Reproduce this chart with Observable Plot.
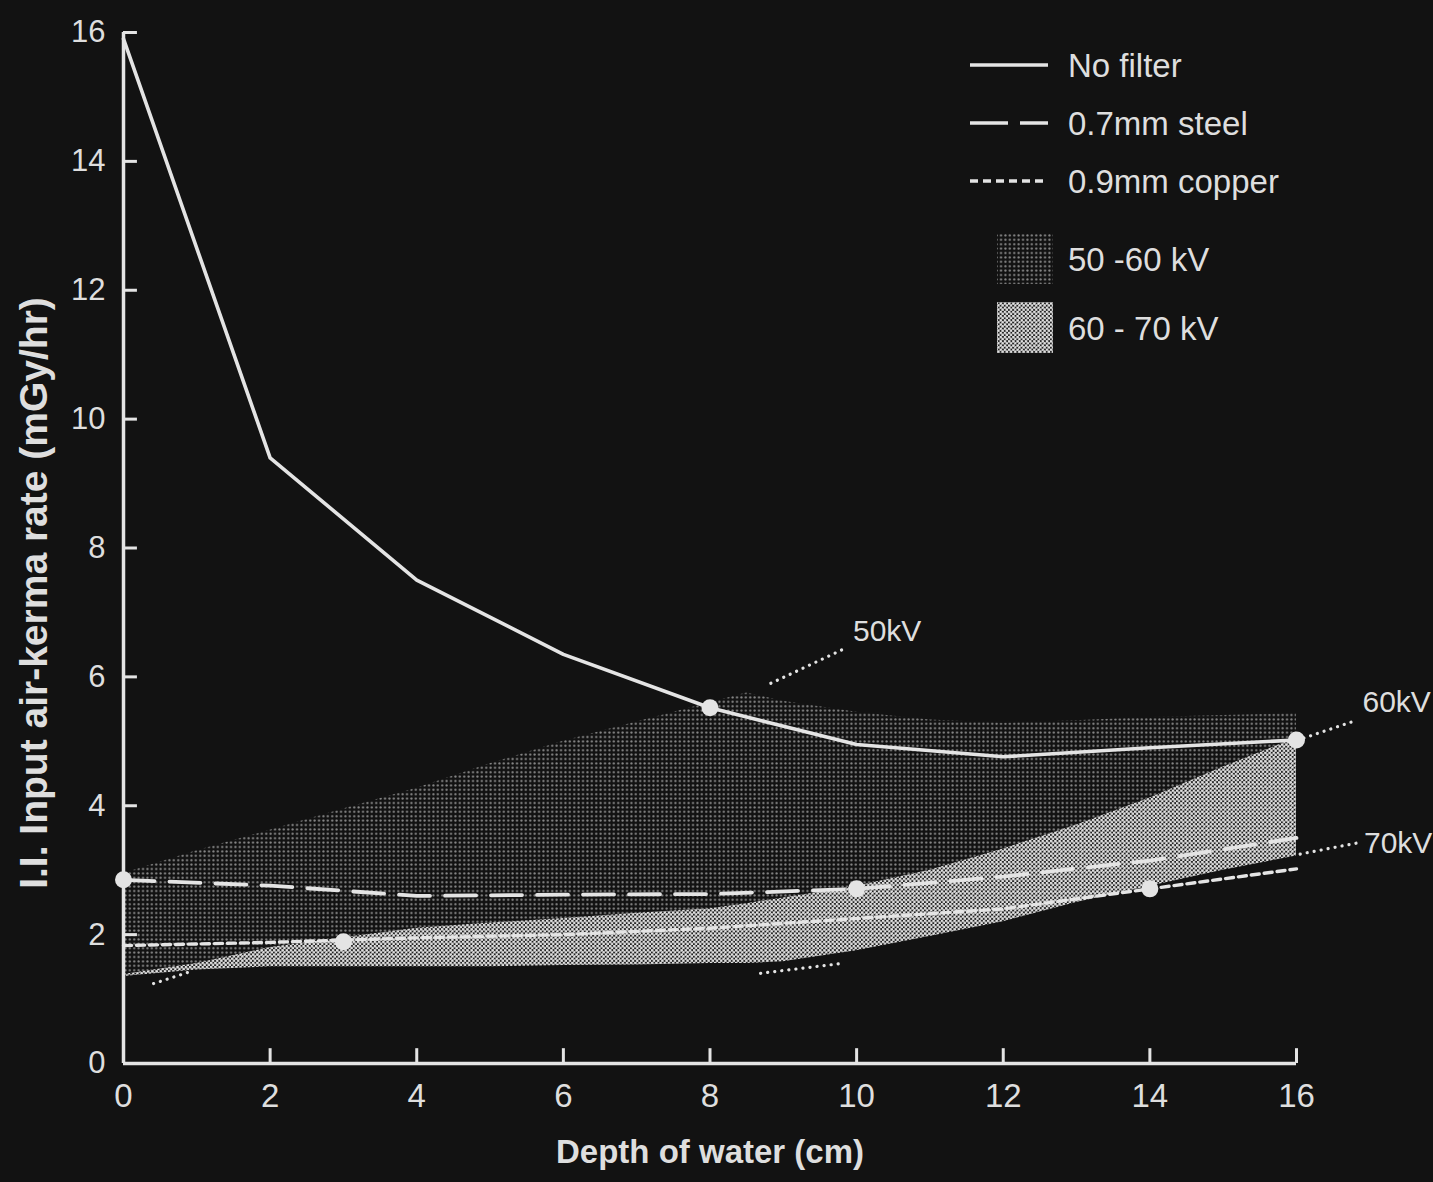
<!DOCTYPE html>
<html>
<head>
<meta charset="utf-8">
<script src="https://cdn.jsdelivr.net/npm/d3@7"></script>
<script src="https://cdn.jsdelivr.net/npm/@observablehq/plot@0.6"></script>
<style>
  html, body { margin: 0; padding: 0; background: #121212; }
  #chart { width: 1433px; height: 1182px; }
</style>
</head>
<body>
<div id="chart"></div>
<script>
// ---------- data ----------
const depth    = [0, 2, 4, 6, 8, 10, 12, 14, 16];
const noFilter = [15.9, 9.4, 7.5, 6.35, 5.52, 4.95, 4.76, 4.9, 5.02];
const steel    = [2.85, 2.76, 2.6, 2.62, 2.63, 2.71, 2.9, 3.15, 3.5];
const copper   = [1.83, 1.88, 1.95, 2.0, 2.1, 2.25, 2.4, 2.71, 3.02];

const markerSeries = ["No filter", "No filter", "0.7mm steel", "0.7mm steel", "0.9mm copper", "0.9mm copper"];
const markerDepth  = [8, 16, 0, 10, 3, 14];
const markerRate   = [5.52, 5.02, 2.85, 2.71, 1.89, 2.71];

// kV envelope curves (shaded bands)
const bandDepth = [0, 1, 2, 3, 4, 5, 6, 7, 8, 8.5, 9, 10, 11, 12, 13, 14, 15, 16];
const kv50 = [2.95, 3.3, 3.62, 3.95, 4.27, 4.65, 5.0, 5.3, 5.6, 5.75, 5.62, 5.45, 5.33, 5.28, 5.32, 5.37, 5.4, 5.43];
const kv60 = [1.38, 1.55, 1.8, 1.95, 2.1, 2.18, 2.25, 2.33, 2.4, 2.48, 2.57, 2.75, 3.0, 3.33, 3.7, 4.12, 4.6, 5.05];
const kv70 = [1.35, 1.45, 1.5, 1.5, 1.5, 1.5, 1.52, 1.53, 1.55, 1.55, 1.58, 1.75, 1.97, 2.2, 2.5, 2.75, 3.0, 3.22];

// kV annotations with dotted leaders
const kvLabel   = ["50kV", "60kV", "70kV"];
const kvLabelX  = [9.95, 16.9, 16.92];
const kvLabelY  = [6.7, 5.6, 3.41];
const leaderX1  = [8.83, 16.1, 16.05, 0.41, 8.69];
const leaderY1  = [5.9, 5.05, 3.25, 1.24, 1.40];
const leaderX2  = [9.82, 16.75, 16.82, 0.95, 9.78];
const leaderY2  = [6.43, 5.3, 3.42, 1.44, 1.55];

const xTicks = [0, 2, 4, 6, 8, 10, 12, 14, 16];
const yTicks = [0, 2, 4, 6, 8, 10, 12, 14, 16];

const xTitle = "Depth of water (cm)";
const yTitle = "I.I. Input air-kerma rate (mGy/hr)";
const legendSeries = ["No filter", "0.7mm steel", "0.9mm copper"];
const legendBands  = ["50 -60 kV", "60 - 70 kV"];

// ---------- tables ----------
const rows = depth.map((d, i) => ({depth: d, noFilter: noFilter[i], steel: steel[i], copper: copper[i]}));
const bandRows = bandDepth.map((d, i) => ({depth: d, kv50: kv50[i], kv60: kv60[i], kv70: kv70[i]}));
const markers = markerDepth.map((d, i) => ({series: markerSeries[i], depth: d, rate: markerRate[i]}));
const labels = kvLabel.map((t, i) => ({text: t, x: kvLabelX[i], y: kvLabelY[i]}));
const leaders = leaderX1.map((x, i) => ({x1: x, y1: leaderY1[i], x2: leaderX2[i], y2: leaderY2[i]}));

const BG = "#121212";
const FG = "#dedede";
const LINE = "#e4e4e4";
const SANS = "'Liberation Sans', Arial, Helvetica, sans-serif";
const NARROW = "'Liberation Sans Narrow', 'Arial Narrow', 'Liberation Sans', Arial, sans-serif";

const plot = Plot.plot({
  width: 1433,
  height: 1182,
  marginLeft: 123,
  marginRight: 137,
  marginTop: 32,
  marginBottom: 119,
  style: {background: BG, color: FG, fontFamily: SANS, overflow: "visible"},
  x: {domain: [0, 16]},
  y: {domain: [0, 16]},
  marks: [
    Plot.areaY(bandRows, {x: "depth", y1: "kv60", y2: "kv50", fill: "url(#halftoneDark)"}),
    Plot.areaY(bandRows, {x: "depth", y1: "kv70", y2: "kv60", fill: "url(#halftoneLight)"}),
    Plot.line(rows, {x: "depth", y: "noFilter", stroke: LINE, strokeWidth: 3.6}),
    Plot.line(rows, {x: "depth", y: "steel", stroke: LINE, strokeWidth: 3.8, strokeDasharray: "31,15"}),
    Plot.line(rows, {x: "depth", y: "copper", stroke: LINE, strokeWidth: 3.4, strokeDasharray: "8,5"}),
    Plot.link(leaders, {x1: "x1", y1: "y1", x2: "x2", y2: "y2", stroke: LINE, strokeWidth: 3.2,
      strokeDasharray: "0.1,7", strokeLinecap: "round"}),
    Plot.text(labels, {x: "x", y: "y", text: "text", textAnchor: "start", fontSize: 30, fill: FG, fontFamily: SANS}),
    Plot.dot(markers, {x: "depth", y: "rate", r: 8.5, fill: LINE, stroke: null}),
    // axis lines
    Plot.ruleY([0], {stroke: LINE, strokeWidth: 3.5}),
    Plot.ruleX([0], {stroke: LINE, strokeWidth: 3.5}),
    // inward ticks
    Plot.ruleX(xTicks.slice(1), {x: d => d, y1: 0, y2: 0.23, stroke: LINE, strokeWidth: 3}),
    Plot.ruleY(yTicks.slice(1), {y: d => d, x1: 0, x2: 0.19, stroke: LINE, strokeWidth: 3}),
    Plot.axisX(xTicks, {tickSize: 0, tickPadding: 20, fontSize: 33, fontFamily: NARROW, label: null, fill: FG, tickFormat: d => String(d)}),
    Plot.axisY(yTicks, {tickSize: 0, tickPadding: 18, fontSize: 31, fontFamily: NARROW, label: null, fill: FG, tickFormat: d => String(d)}),
    // axis titles
    Plot.text([xTitle], {frameAnchor: "bottom", dy: 99, fontSize: 33, fontWeight: "bold", fill: FG, fontFamily: SANS, textAnchor: "middle"}),
    Plot.text([yTitle], {frameAnchor: "left", textAnchor: "middle", rotate: -90, dx: -89, dy: 45, fontSize: 39, fontWeight: "bold", fill: FG, fontFamily: SANS})
  ]
});

// halftone patterns + legend
const svg = d3.select(plot);
const defs = svg.insert("defs", ":first-child");
const pd = defs.append("pattern").attr("id", "halftoneDark").attr("patternUnits", "userSpaceOnUse")
  .attr("width", 4.4).attr("height", 4.4);
pd.append("rect").attr("width", 4.4).attr("height", 4.4).attr("fill", "#121212");
pd.append("circle").attr("cx", 2.2).attr("cy", 2.2).attr("r", 1.1).attr("fill", "#8c8c8c");

const pl = defs.append("pattern").attr("id", "halftoneLight").attr("patternUnits", "userSpaceOnUse")
  .attr("width", 4.2).attr("height", 4.2);
pl.append("rect").attr("width", 4.2).attr("height", 4.2).attr("fill", "#222");
pl.append("circle").attr("cx", 1.05).attr("cy", 1.05).attr("r", 1.4).attr("fill", "#e2e2e2");
pl.append("circle").attr("cx", 3.15).attr("cy", 3.15).attr("r", 1.4).attr("fill", "#e2e2e2");

const lg = svg.append("g").attr("font-family", SANS).attr("fill", FG).attr("text-anchor", "start");
const dashes = [null, "38,12", "8,5"];
const rowY = [65, 123, 181];
legendSeries.forEach((name, i) => {
  lg.append("line").attr("x1", 970).attr("x2", 1048).attr("y1", rowY[i]).attr("y2", rowY[i])
    .attr("stroke", LINE).attr("stroke-width", 3.4).attr("stroke-dasharray", dashes[i]);
  lg.append("text").attr("x", 1068).attr("y", rowY[i]).attr("dy", "0.35em")
    .attr("text-anchor", "start").attr("font-size", 33).text(name);
});
const swY = [233, 302];
const swFill = ["url(#halftoneDark)", "url(#halftoneLight)"];
legendBands.forEach((name, i) => {
  lg.append("rect").attr("x", 997).attr("y", swY[i]).attr("width", 56).attr("height", 51).attr("fill", swFill[i]);
  lg.append("text").attr("x", 1068).attr("y", swY[i] + 26).attr("dy", "0.35em")
    .attr("text-anchor", "start").attr("font-size", 33).text(name);
});

document.getElementById("chart").appendChild(plot);
</script>
</body>
</html>
